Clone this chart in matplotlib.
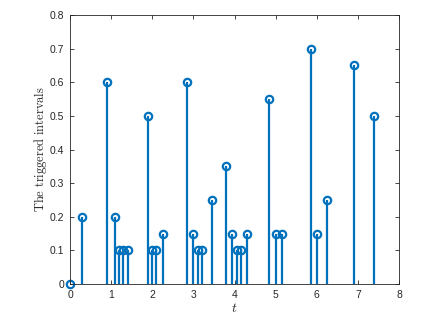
import matplotlib
matplotlib.use("Agg")
import matplotlib.pyplot as plt

t = [0, 0.3, 0.9, 1.1, 1.2, 1.3, 1.4, 1.9, 2.0, 2.1, 2.25, 2.85, 3.0, 3.1, 3.2,
     3.45, 3.8, 3.95, 4.05, 4.15, 4.3, 4.85, 5.0, 5.15, 5.85, 6.0, 6.25, 6.9, 7.4]
intervals = [0, 0.2, 0.6, 0.2, 0.1, 0.1, 0.1, 0.5, 0.1, 0.1, 0.15, 0.6, 0.15, 0.1, 0.1,
             0.25, 0.35, 0.15, 0.1, 0.1, 0.15, 0.55, 0.15, 0.15, 0.7, 0.15, 0.25, 0.65, 0.5]
xticks = list(range(0, 9))
yticks = [0, 0.1, 0.2, 0.3, 0.4, 0.5, 0.6, 0.7, 0.8]
yticklabels = ["0", "0.1", "0.2", "0.3", "0.4", "0.5", "0.6", "0.7", "0.8"]

plt.rcParams['mathtext.fontset'] = 'cm'
plt.rcParams['font.family'] = ['Liberation Sans', 'DejaVu Sans']

color = '#0072BD'
fig = plt.figure(figsize=(4.44, 3.2), dpi=100)
ax = fig.add_axes([0.1577, 0.1125, 0.741, 0.8405])

markerline, stemlines, baseline = ax.stem(t, intervals, basefmt=' ')
plt.setp(stemlines, color=color, linewidth=1.6)
plt.setp(markerline, color=color, marker='o', markersize=5.3, markerfacecolor='none',
         markeredgewidth=1.6, markeredgecolor=color)

ax.set_xlim(0, 8)
ax.set_ylim(0, 0.8)
ax.set_xticks(xticks)
ax.set_yticks(yticks)
ax.set_yticklabels(yticklabels)
ax.tick_params(direction='in', top=True, right=True, labelsize=7.5, length=3,
               width=0.6, colors='#262626', pad=4)
for s in ax.spines.values():
    s.set_linewidth(0.6)
    s.set_color('#262626')
for lab in ax.get_xticklabels() + ax.get_yticklabels():
    lab.set_color('#262626')

ax.set_xlabel(r'$t$', fontsize=10, labelpad=1, color='#262626')
ax.set_ylabel(r'$\mathrm{The\ triggered\ intervals}$', fontsize=9, labelpad=1,
              color='#262626')
markerline.set_clip_on(False)

fig.savefig('out.png', dpi=100)
